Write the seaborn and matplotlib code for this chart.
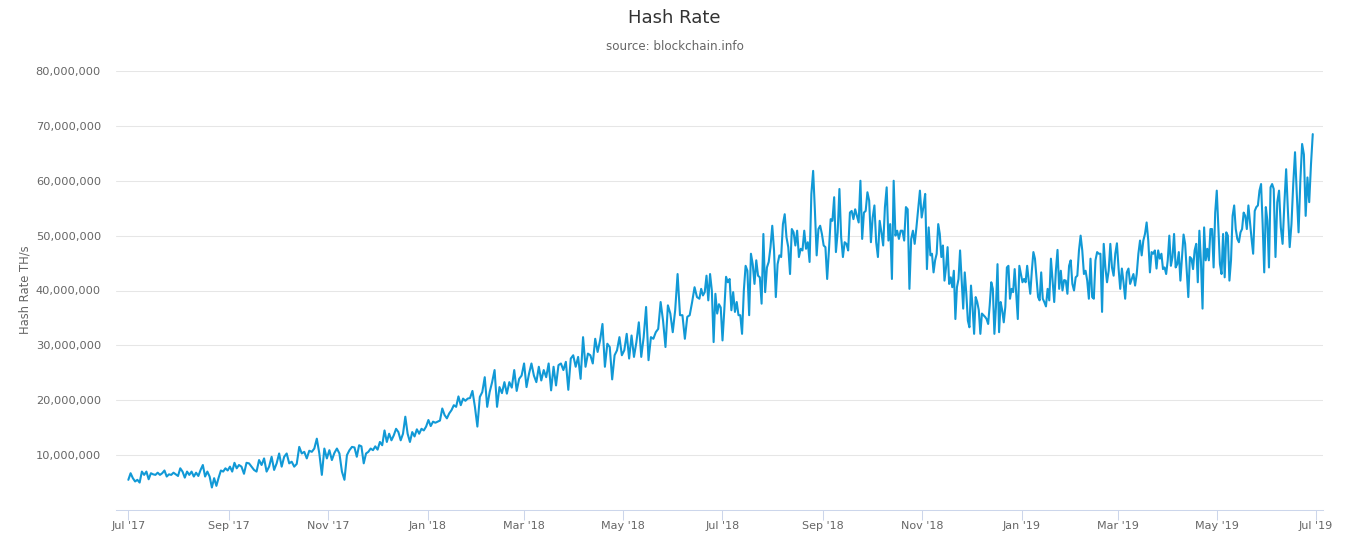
import numpy as np
import pandas as pd
import matplotlib
matplotlib.use("Agg")
import matplotlib.pyplot as plt
import matplotlib.dates as mdates
from matplotlib.ticker import FuncFormatter, FixedLocator
import seaborn as sns

# ---- data (hash rate in millions of TH/s) ----
segment_bounds = ['2017-07-01', '2017-09-07', '2017-11-17', '2018-01-27', '2018-04-08',
                  '2018-06-17', '2018-08-27', '2018-11-06', '2019-01-15', '2019-03-27',
                  '2019-06-05', '2019-06-29']

seg1 = [5.5, 6.7, 5.8, 5.2, 5.5, 5.0, 7.0, 6.4, 7.0, 5.6, 6.7, 6.5, 6.4, 6.8, 6.4, 6.7, 7.2, 6.1,
        6.5, 6.4, 6.8, 6.5, 6.2, 7.6, 7.0, 5.9, 7.0, 6.4, 7.0, 6.1, 6.8, 6.2, 7.3, 8.2, 6.1, 7.0,
        6.1, 4.1, 5.8, 4.4, 5.9, 7.2, 7.0, 7.6, 7.2, 7.9, 7.0, 8.6, 7.6]
seg2 = [8.2, 7.9, 6.6, 8.6, 8.5, 7.9, 7.3, 7.0, 9.1, 8.2, 9.4, 7.0, 7.9, 9.7, 7.3, 8.5, 10.3, 7.9,
        9.7, 10.3, 8.5, 8.8, 7.9, 8.4, 11.5, 10.3, 10.6, 9.4, 10.8, 10.6, 11.2, 13.0, 10.3, 6.4,
        11.2, 9.4, 10.9, 9.1, 10.4, 11.2, 10.3, 7.0, 5.5, 10.0, 10.9, 11.5]
seg3 = [11.4, 9.7, 11.8, 11.6, 8.5, 10.3, 10.6, 11.2, 10.9, 11.6, 11.0, 12.4, 11.8, 14.5, 12.4,
        13.9, 12.7, 13.6, 14.8, 14.2, 12.7, 13.9, 17.0, 13.9, 12.4, 14.2, 13.4, 14.7, 13.9, 14.8,
        14.5, 15.2, 16.4, 15.3, 16.1, 15.9, 16.1, 16.3, 18.5, 17.3, 16.7, 17.6, 18.2, 19.1, 18.8,
        20.7, 19.1, 20.3, 19.9, 20.3]
seg4 = [20.4, 21.7, 18.8, 15.2, 20.6, 21.5, 24.2, 18.8, 21.5, 23.3, 25.5, 18.8, 22.4, 21.3, 23.3,
        21.2, 23.3, 22.3, 25.5, 21.7, 23.9, 24.5, 26.7, 22.4, 24.8, 26.7, 24.5, 23.3, 26.1, 23.6,
        25.5, 24.2, 26.7, 21.8, 26.1, 22.7, 26.4, 26.7, 25.5, 27.0, 21.9, 27.6, 28.2, 26.1, 27.9,
        23.9, 31.5]
seg5 = [26.1, 28.5, 28.2, 26.7, 31.2, 28.8, 30.9, 33.9, 26.1, 30.3, 29.7, 23.8, 28.2, 29.1, 31.5,
        28.2, 29.1, 32.1, 27.6, 31.8, 27.9, 30.6, 34.2, 27.9, 31.5, 37.0, 27.3, 31.5, 31.2, 32.4,
        33.0, 37.9, 34.5, 29.7, 37.3, 35.8, 32.4, 36.4, 43.0, 35.5, 35.5, 31.2, 35.2, 35.5, 37.9,
        40.6, 38.8]
seg6 = [38.5, 40.3, 39.1, 39.7, 42.7, 38.2, 43.0, 40.0, 30.6, 39.4, 35.8, 37.5, 36.9, 30.9, 36.4,
        42.5, 41.5, 42.1, 36.4, 39.7, 36.1, 37.9, 35.5, 35.5, 32.1, 40.0, 44.5, 43.6, 35.5, 46.7,
        44.8, 41.2, 45.5, 42.7, 42.4, 37.6, 50.3, 39.7, 44.2, 45.2, 47.9, 51.8, 47.3, 38.8, 44.8,
        46.4, 46.1, 52.1, 53.9, 49.7, 47.9, 43.0, 51.2, 50.6, 48.2, 50.9, 46.1, 47.6, 47.3, 50.9,
        47.6, 48.8, 45.2, 57.6, 61.8]
seg7 = [54.5, 46.4, 51.2, 51.8, 50.3, 48.2, 47.9, 42.1, 47.3, 53.0, 52.7, 57.0, 47.0, 50.6, 58.5,
        49.7, 46.1, 48.8, 48.5, 47.3, 54.2, 54.5, 53.0, 54.8, 53.6, 52.4, 60.0, 49.4, 54.2, 54.5,
        57.9, 56.4, 48.8, 53.3, 55.5, 48.8, 46.1, 52.7, 50.6, 48.2, 55.2, 58.8, 49.1, 52.1, 42.1,
        60.0, 50.0, 50.9, 49.4, 50.9, 50.9, 49.1, 55.2, 54.8, 40.3, 49.4, 50.9, 48.5, 51.5, 54.8,
        58.2, 53.3, 55.2, 57.6, 43.9, 51.5]
seg8 = [46.4, 46.7, 43.3, 45.5, 46.7, 52.1, 50.3, 46.1, 48.2, 41.8, 44.2, 47.9, 41.2, 42.4, 40.6,
        43.6, 34.8, 40.6, 42.1, 47.3, 42.1, 36.7, 43.3, 39.4, 34.5, 33.3, 40.9, 37.0, 32.1, 38.8,
        37.9, 36.4, 32.1, 35.8, 35.5, 35.2, 34.8, 33.9, 37.3, 41.5, 40.3, 32.1, 37.0, 44.8, 32.4,
        37.9, 36.4, 34.2, 37.0, 44.2, 44.5, 38.5, 40.3, 39.7, 43.9, 39.4, 34.8, 44.5, 43.0, 41.5,
        42.1, 41.5, 44.5, 41.8, 39.4, 43.6, 47.0, 45.8, 42.4, 38.8, 38.2, 43.3, 38.5]
seg9 = [37.9, 37.1, 40.3, 38.2, 45.8, 41.8, 37.9, 43.6, 47.4, 40.3, 43.6, 40.0, 41.9, 41.8, 39.4,
        44.5, 45.5, 41.2, 40.0, 42.4, 42.7, 47.3, 50.0, 47.3, 43.0, 43.6, 41.8, 38.5, 45.8, 38.8,
        38.5, 45.5, 47.0, 46.7, 46.7, 36.1, 48.5, 44.2, 41.5, 43.6, 48.5, 44.2, 42.7, 46.7, 48.6,
        44.0, 40.3, 44.0, 41.5, 38.5, 43.3, 44.0, 41.2, 42.1, 43.0, 40.9, 43.0, 46.7, 49.1, 46.4,
        49.1, 50.3, 52.4, 49.1, 43.3, 47.0, 46.7, 47.3, 44.0, 47.3]
seg10 = [45.8, 46.7, 43.9, 44.2, 43.0, 45.5, 50.0, 44.5, 46.1, 50.3, 44.2, 44.8, 47.0, 41.8, 46.1,
         50.2, 48.5, 43.6, 38.8, 46.1, 45.8, 43.9, 47.3, 48.5, 41.5, 50.9, 45.2, 36.7, 51.5, 45.5,
         47.6, 45.5, 51.2, 51.2, 44.2, 54.2, 58.2, 51.5, 44.8, 43.0, 50.3, 42.4, 50.6, 50.0, 41.8,
         45.5, 53.6, 55.5, 51.2, 49.4, 48.8, 50.6, 51.2, 54.2, 53.6, 51.2, 55.5, 52.4, 49.4, 46.7,
         54.5, 55.2, 55.5, 58.2, 59.4, 52.1, 43.3, 55.2, 52.7, 44.2, 58.8, 59.4]
seg11 = [58.5, 46.1, 56.1, 58.2, 51.5, 48.5, 55.8, 62.1, 54.5, 47.9, 52.1, 59.4, 65.2, 57.6, 50.6,
         60.0, 66.7, 64.8, 53.6, 60.6, 56.1, 63.0, 68.5]

y_ticks = [10e6, 20e6, 30e6, 40e6, 50e6, 60e6, 70e6, 80e6]
title = "Hash Rate"
subtitle = "source: blockchain.info"
y_title = "Hash Rate TH/s"

# ---- build the series ----
segments = [seg1, seg2, seg3, seg4, seg5, seg6, seg7, seg8, seg9, seg10, seg11]
dates, vals = [], []
for i, seg in enumerate(segments):
    start, end = pd.Timestamp(segment_bounds[i]), pd.Timestamp(segment_bounds[i + 1])
    last = i == len(segments) - 1
    rng = pd.date_range(start, end, periods=len(seg) + (0 if last else 1))
    if not last:
        rng = rng[:-1]
    dates.extend(rng)
    vals.extend(seg)
df = pd.DataFrame({"date": dates, "hash_rate": np.array(vals) * 1e6})

# ---- style ----
sns.set_style("white")
plt.rcParams["font.family"] = ["DejaVu Sans"]

W, H = 1349, 550
fig = plt.figure(figsize=(W / 100, H / 100), dpi=100)
left, right, top, bottom = 116, 1323, 71, 510
ax = fig.add_axes([left / W, 1 - bottom / H, (right - left) / W, (bottom - top) / H])

sns.lineplot(data=df, x="date", y="hash_rate", ax=ax, color="#1199d6", linewidth=1.5, zorder=3)

ax.set_xlim(pd.Timestamp("2017-06-23 10:00"), pd.Timestamp("2019-07-05 07:00"))
ax.set_ylim(0, 80e6)
ax.yaxis.set_major_locator(FixedLocator(y_ticks))
ax.yaxis.set_major_formatter(FuncFormatter(lambda v, p: f"{v:,.0f}"))
ax.xaxis.set_major_locator(mdates.MonthLocator(bymonth=[1, 3, 5, 7, 9, 11]))
ax.xaxis.set_major_formatter(mdates.DateFormatter("%b '%y"))

ax.grid(axis="y", color="#e6e6e6", linewidth=0.75, zorder=0)
ax.grid(axis="x", visible=False)
for s in ["top", "right", "left"]:
    ax.spines[s].set_visible(False)
ax.spines["bottom"].set_color("#ccd6eb")
ax.spines["bottom"].set_linewidth(0.75)
ax.tick_params(axis="x", length=7.2, width=0.75, color="#ccd6eb", labelcolor="#666666",
               labelsize=8, pad=1, direction="out", bottom=True)
ax.tick_params(axis="y", length=0, labelcolor="#666666", labelsize=8.2, pad=10.8)
ax.set_xlabel("")
ax.set_ylabel("")

fig.text(0.5, 1 - 18 / H, title, ha="center", va="center", fontsize=13, color="#333333")
fig.text(0.5, 1 - 47 / H, subtitle, ha="center", va="center", fontsize=8.6, color="#666666")
fig.text(25 / W, 1 - 290 / H, y_title, rotation=90, ha="center", va="center",
         fontsize=8.3, color="#666666")

fig.savefig("out.png", dpi=100)
